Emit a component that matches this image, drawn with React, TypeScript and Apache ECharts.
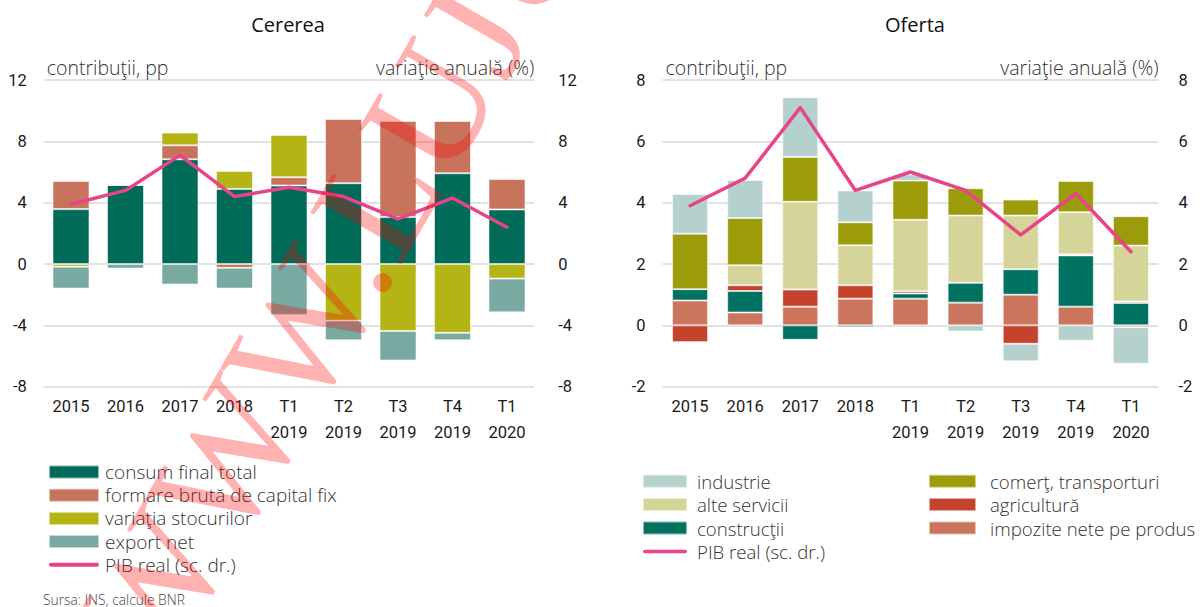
import React, { useEffect, useRef } from "react";
import * as echarts from "echarts";

const categories = ["2015", "2016", "2017", "2018", "T1\n2019", "T2\n2019", "T3\n2019", "T4\n2019", "T1\n2020"];

// Cererea (demand) contributions, pp
const consumFinal = [3.58, 5.16, 6.83, 4.9, 5.12, 5.27, 3.06, 5.92, 3.56];
const formareCapital = [1.84, 0, 0.91, -0.25, 0.54, 4.19, 6.27, 3.41, 1.99];
const variatiaStocuri = [-0.17, 0, 0.83, 1.17, 2.76, -3.69, -4.36, -4.49, -0.95];
const exportNet = [-1.43, -0.3, -1.34, -1.35, -3.32, -1.28, -1.93, -0.48, -2.2];

// Oferta (supply) contributions, pp
const impozite = [0.81, 0.42, 0.61, 0.87, 0.87, 0.74, 1.0, 0.61, -0.06];
const constructii = [0.37, 0.7, -0.47, -0.06, 0.17, 0.65, 0.83, 1.67, 0.73];
const agricultura = [-0.55, 0.19, 0.56, 0.44, 0.07, 0, -0.6, 0.04, 0.05];
const alteServicii = [0, 0.65, 2.86, 1.3, 2.33, 2.19, 1.75, 1.37, 1.82];
const comert = [1.81, 1.54, 1.46, 0.75, 1.28, 0.89, 0.52, 1.02, 0.96];
const industrie = [1.29, 1.24, 1.95, 1.04, 0.2, -0.2, -0.57, -0.5, -1.19];

// PIB real, annual change (%)
const pibReal = [3.9, 4.8, 7.1, 4.4, 5.0, 4.4, 2.95, 4.3, 2.4];

const leftTicks = { min: -8, max: 12, interval: 4 };
const rightTicks = { min: -2, max: 8, interval: 2 };

const NUM_FONT = "Roboto, 'Liberation Sans', sans-serif";
const TXT_FONT = "'Open Sans', 'Noto Sans', sans-serif";
const PIB = "PIB real (sc. dr.)";
const LINE_ICON = "path://M2,0 L48,0 A2,2 0 0 1 48,4 L2,4 A2,2 0 0 1 2,0 Z";

export default function App() {
  const ref = useRef<HTMLDivElement>(null);
  useEffect(() => {
    if (!ref.current) return;
    const chart = echarts.init(ref.current, null, { renderer: "svg" });
    const gridTop = 80;
    const gridH = 306.7;
    const bar = (name: string, data: number[], color: string, gi: number, width: number) => ({
      name,
      type: "bar",
      stack: gi === 0 ? "dem" : "sup",
      xAxisIndex: gi,
      yAxisIndex: gi * 2,
      barWidth: width,
      data,
      itemStyle: { color, borderColor: "rgba(255,255,255,0.55)", borderWidth: 1 },
    });
    const line = (gi: number) => ({
      name: PIB,
      type: "line",
      xAxisIndex: gi,
      yAxisIndex: gi * 2 + 1,
      data: pibReal,
      symbol: "none",
      z: 5,
      lineStyle: { color: "#E8448A", width: 3.5, cap: "round", join: "round" },
      itemStyle: { color: "#E8448A" },
    });
    const numLabel = { fontSize: 16.5, color: "#1a1a1a", fontFamily: NUM_FONT };
    const xAxis = (gi: number) => ({
      type: "category",
      gridIndex: gi,
      data: categories,
      axisLine: { show: false },
      axisTick: { show: false },
      axisLabel: { interval: 0, margin: 7, lineHeight: 26, ...numLabel },
    });
    const yAxis = (gi: number, pos: string, t: any, name: string, margin: number) => ({
      type: "value",
      gridIndex: gi,
      position: pos,
      min: t.min,
      max: t.max,
      interval: t.interval,
      name,
      nameLocation: "end",
      nameGap: 3,
      nameTextStyle: {
        fontSize: 19.5,
        fontWeight: 300,
        color: "#333",
        fontFamily: TXT_FONT,
        align: pos === "left" ? "left" : "right",
        verticalAlign: "bottom",
        padding: pos === "left" ? [0, 0, 0, 3] : [0, 0, 0, 0],
      },
      axisLine: { show: false },
      axisTick: { show: false },
      splitLine: { show: pos === "left", lineStyle: { color: "#d9d9d9", width: 1.5 } },
      axisLabel: { margin, ...numLabel },
    });
    const legendText = { fontWeight: 300, color: "#333", fontFamily: TXT_FONT };
    const option: any = {
      animation: false,
      backgroundColor: "#ffffff",
      title: [
        { text: "Cererea", left: 288, top: 14, padding: 0, textAlign: "center", textStyle: { fontSize: 20, fontWeight: 500, color: "#111", fontFamily: TXT_FONT } },
        { text: "Oferta", left: 915, top: 14, padding: 0, textAlign: "center", textStyle: { fontSize: 20, fontWeight: 500, color: "#111", fontFamily: TXT_FONT } },
      ],
      grid: [
        { left: 43.75, width: 490.5, top: gridTop, height: gridH },
        { left: 662.5, width: 496, top: gridTop, height: gridH },
      ],
      xAxis: [xAxis(0), xAxis(1)],
      yAxis: [
        yAxis(0, "left", leftTicks, "contribuţii, pp", 17),
        yAxis(0, "right", leftTicks, "variaţie anuală (%)", 24),
        yAxis(1, "left", rightTicks, "contribuţii, pp", 17),
        yAxis(1, "right", rightTicks, "variaţie anuală (%)", 20),
      ],
      legend: [
        {
          left: 48,
          top: 462.5,
          padding: 0,
          orient: "vertical",
          itemWidth: 50,
          itemHeight: 13,
          itemGap: 4.2,
          selectedMode: false,
          textStyle: { ...legendText, fontSize: 19, lineHeight: 19, padding: [0, 0, 0, 1] },
          data: [
            { name: "consum final total", icon: "rect" },
            { name: "formare brută de capital fix", icon: "rect" },
            { name: "variaţia stocurilor", icon: "rect" },
            { name: "export net", icon: "rect" },
            { name: PIB, icon: LINE_ICON },
          ],
        },
        {
          left: 642,
          top: 471.7,
          padding: 0,
          orient: "vertical",
          itemWidth: 44,
          itemHeight: 13,
          itemGap: 4.4,
          selectedMode: false,
          textStyle: { ...legendText, fontSize: 18.6, lineHeight: 18.6, padding: [0, 0, 0, 5] },
          data: [
            { name: "industrie", icon: "rect" },
            { name: "alte servicii", icon: "rect" },
            { name: "construcţii", icon: "rect" },
            { name: PIB, icon: LINE_ICON },
          ],
        },
        {
          left: 928,
          top: 471.7,
          padding: 0,
          orient: "vertical",
          itemWidth: 47,
          itemHeight: 13,
          itemGap: 4.4,
          selectedMode: false,
          textStyle: { ...legendText, fontSize: 18.6, lineHeight: 18.6, padding: [0, 0, 0, 9] },
          data: [
            { name: "comerţ, transporturi", icon: "rect" },
            { name: "agricultură", icon: "rect" },
            { name: "impozite nete pe produs", icon: "rect" },
          ],
        },
      ],
      series: [
        bar("consum final total", consumFinal, "#006B59", 0, 37),
        bar("formare brută de capital fix", formareCapital, "#C8745C", 0, 37),
        bar("variaţia stocurilor", variatiaStocuri, "#B4B414", 0, 37),
        bar("export net", exportNet, "#79AAA2", 0, 37),
        line(0),
        bar("impozite nete pe produs", impozite, "#CB755C", 1, 36),
        bar("construcţii", constructii, "#007261", 1, 36),
        bar("agricultură", agricultura, "#C5432D", 1, 36),
        bar("alte servicii", alteServicii, "#D5D59A", 1, 36),
        bar("comerţ, transporturi", comert, "#9C9C0A", 1, 36),
        bar("industrie", industrie, "#B5D1CD", 1, 36),
        line(1),
      ],
      graphic: [
        {
          type: "text",
          left: 43,
          top: 592,
          style: { text: "Sursa: INS, calcule BNR", font: `300 13.8px ${TXT_FONT}`, fill: "#444" },
        },
        {
          type: "text",
          z: 100,
          x: 182,
          y: 696,
          rotation: Math.PI / 3,
          silent: true,
          style: {
            text: "WWW.LUJU.RO",
            font: "160px 'Liberation Serif', 'DejaVu Serif', serif",
            fill: "rgba(255,0,0,0.3)",
            textAlign: "left",
            textVerticalAlign: "bottom",
          },
        },
      ],
    };
    chart.setOption(option);
    return () => chart.dispose();
  }, []);
  return <div ref={ref} style={{ position: "absolute", left: 0, top: 0, width: 1200, height: 607 }} />;
}
